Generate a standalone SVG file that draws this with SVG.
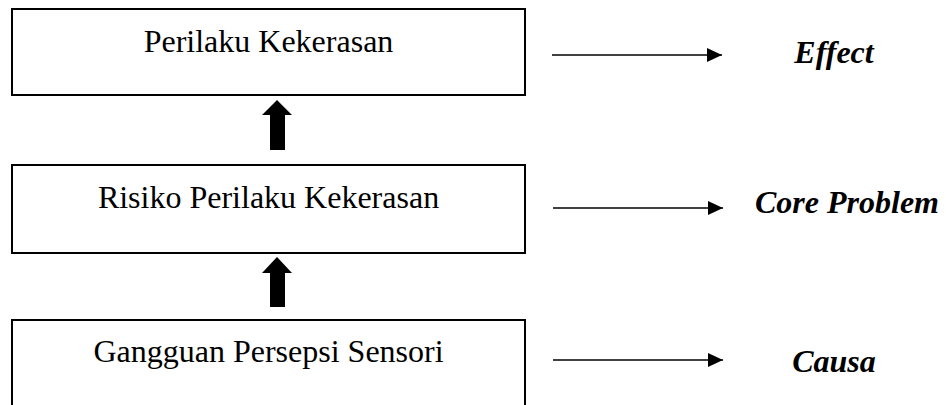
<svg xmlns="http://www.w3.org/2000/svg" width="946" height="405" viewBox="0 0 946 405">
<style>
.box{fill:#fff;stroke:#000;stroke-width:2}
.t{font-family:"Liberation Serif","Times New Roman",serif;font-size:32px;fill:#000;text-anchor:middle}
.lbl{font-family:"Liberation Serif","Times New Roman",serif;font-size:32px;font-weight:bold;font-style:italic;fill:#000;text-anchor:middle}
.ln{stroke:#000;stroke-width:1.3;fill:none;marker-end:url(#ah)}
.up{fill:#000}
</style>
<defs>
<marker id="ah" markerWidth="16" markerHeight="14" refX="15" refY="7" orient="auto" markerUnits="userSpaceOnUse">
<path d="M0,0 L15,7 L0,14 Z" fill="#000"/>
</marker>
</defs>
<rect width="946" height="405" fill="#fff"/>
<g id="node-effect">
<rect class="box" x="12" y="9" width="513" height="86"/>
<text class="t" x="268.5" y="52">Perilaku Kekerasan</text>
</g>
<g id="node-core">
<rect class="box" x="12" y="165" width="513" height="88"/>
<text class="t" x="268.5" y="208">Risiko Perilaku Kekerasan</text>
</g>
<g id="node-causa">
<rect class="box" x="12" y="320" width="513" height="100"/>
<text class="t" x="268.5" y="362">Gangguan Persepsi Sensori</text>
</g>
<g id="label-effect"><text class="lbl" x="834" y="63">Effect</text></g>
<g id="label-core"><text class="lbl" x="847" y="213">Core Problem</text></g>
<g id="label-causa"><text class="lbl" x="834" y="372">Causa</text></g>
<g id="connectors">
<path class="up" d="M277,100 L292,115 L285,115 L285,150 L270,150 L270,115 L262,115 Z"/>
<path class="up" d="M277,257 L292,273 L285,273 L285,307 L270,307 L270,273 L262,273 Z"/>
<line class="ln" x1="552" y1="55" x2="722" y2="55"/>
<line class="ln" x1="553" y1="208" x2="723" y2="208"/>
<line class="ln" x1="553" y1="360" x2="723" y2="360"/>
</g>
</svg>
